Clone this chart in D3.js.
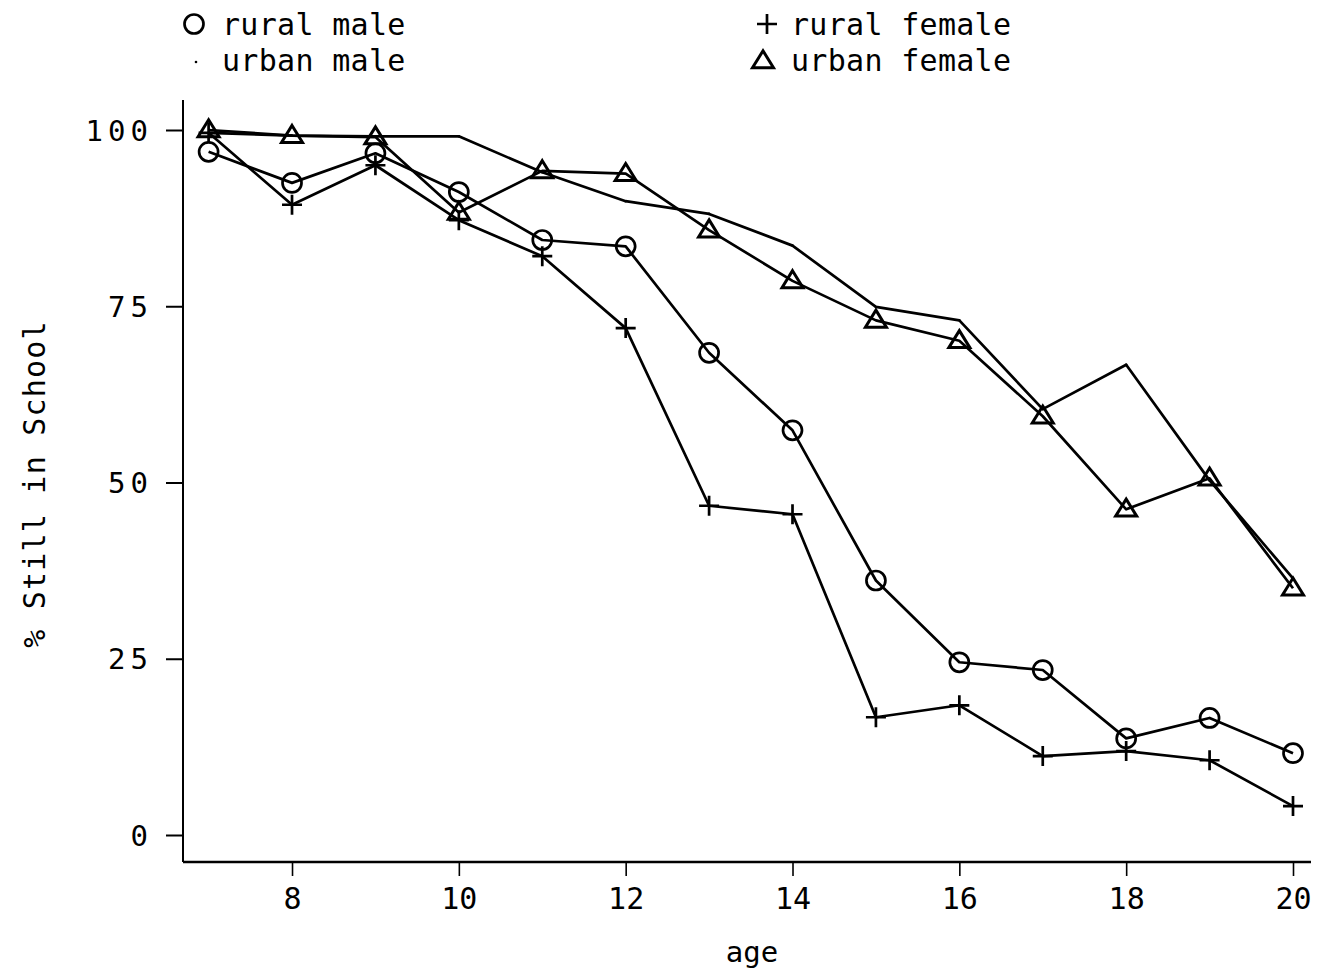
<!DOCTYPE html>
<html>
<head>
<meta charset="utf-8">
<script src="https://cdn.jsdelivr.net/npm/d3@7"></script>
<style>
  html, body { margin: 0; padding: 0; background: #fff; }
  svg { display: block; }
  text { font-family: "DejaVu Sans Mono", "Liberation Mono", monospace; fill: #000; }
</style>
</head>
<body>
<svg id="chart" width="1317" height="972"></svg>
<script>
// ---- data ----
const ages = [7, 8, 9, 10, 11, 12, 13, 14, 15, 16, 17, 18, 19, 20];
const ruralMale   = [96.9, 92.5, 96.7, 91.2, 84.4, 83.5, 68.4, 57.4, 36.1, 24.5, 23.4, 13.7, 16.6, 11.6];
const ruralFemale = [99.6, 89.4, 95.0, 87.2, 82.1, 71.9, 46.7, 45.5, 16.7, 18.4, 11.2, 11.9, 10.6, 4.1];
const urbanMale   = [99.6, 99.2, 99.1, 99.1, 94.0, 89.9, 88.1, 83.6, 74.9, 73.0, 60.4, 66.7, 50.3, 36.4];
const urbanFemale = [100.0, 99.2, 99.0, 88.3, 94.2, 93.8, 85.8, 78.6, 73.0, 70.1, 59.4, 46.2, 50.6, 35.0];
const yTicks = [0, 25, 50, 75, 100];
const xTicks = [8, 10, 12, 14, 16, 18, 20];
const legendLabels = ["rural male", "urban male", "rural female", "urban female"];
const xTitle = "age";
const yTitle = "% Still in School";

const svg = d3.select("#chart");
const x = d3.scaleLinear().domain([7, 20]).range([208.6, 1293]);
const y = d3.scaleLinear().domain([0, 100]).range([835, 130]);

const axisX0 = 183, axisY0 = 862;
const SW = 2.7;

// axis lines
svg.append("line").attr("x1", axisX0).attr("x2", axisX0).attr("y1", 100).attr("y2", axisY0)
  .attr("stroke", "#000").attr("stroke-width", 2);
svg.append("line").attr("x1", axisX0).attr("x2", 1311).attr("y1", axisY0).attr("y2", axisY0)
  .attr("stroke", "#000").attr("stroke-width", 2.4);

// y axis
const yAxis = svg.append("g").attr("transform", `translate(${axisX0},0)`)
  .call(d3.axisLeft(y).tickValues(yTicks).tickSize(17).tickPadding(13).tickFormat(d3.format("d")));
yAxis.select(".domain").remove();
yAxis.selectAll(".tick line").attr("stroke", "#000").attr("stroke-width", 2);
yAxis.selectAll(".tick text").attr("font-size", 29).attr("letter-spacing", 5)
  .attr("font-family", "DejaVu Sans Mono").attr("fill", "#000").attr("dy", "0.35em");

// x axis
const xAxis = svg.append("g").attr("transform", `translate(0,${axisY0})`)
  .call(d3.axisBottom(x).tickValues(xTicks).tickSize(14).tickPadding(12).tickFormat(d3.format("d")));
xAxis.select(".domain").remove();
xAxis.selectAll(".tick line").attr("stroke", "#000").attr("stroke-width", 1.6);
xAxis.selectAll(".tick text").attr("font-size", 30)
  .attr("font-family", "DejaVu Sans Mono").attr("fill", "#000");

// titles
svg.append("text").attr("x", 752).attr("y", 962).attr("text-anchor", "middle")
  .attr("font-size", 29).text(xTitle);
svg.append("text").attr("transform", "translate(45,484) rotate(-90)").attr("text-anchor", "middle")
  .attr("font-size", 30).attr("letter-spacing", 1.2).text(yTitle);

// lines
const line = d3.line().x((d, i) => x(ages[i])).y(d => y(d));
const seriesList = [ruralMale, urbanMale, ruralFemale, urbanFemale];
seriesList.forEach(s => {
  svg.append("path").datum(s).attr("d", line)
    .attr("fill", "none").attr("stroke", "#000").attr("stroke-width", SW)
    .attr("stroke-linejoin", "round");
});

// marker drawers
function circleM(g, cx, cy) {
  g.append("circle").attr("cx", cx).attr("cy", cy).attr("r", 9.5)
    .attr("fill", "none").attr("stroke", "#000").attr("stroke-width", SW);
}
function plusM(g, cx, cy) {
  g.append("path").attr("d", `M${cx-10},${cy}H${cx+10}M${cx},${cy-10}V${cy+10}`)
    .attr("stroke", "#000").attr("stroke-width", SW).attr("fill", "none");
}
function triM(g, cx, cy) {
  const h = 17, w = 10.5;
  g.append("path").attr("d", `M${cx},${cy-h*0.6}L${cx+w},${cy+h*0.4}L${cx-w},${cy+h*0.4}Z`)
    .attr("stroke", "#000").attr("stroke-width", SW + 0.3).attr("fill", "none").attr("stroke-linejoin", "miter");
}
function dotM(g, cx, cy) {
  g.append("circle").attr("cx", cx).attr("cy", cy).attr("r", 1.3).attr("fill", "#000");
}

const mg = svg.append("g");
ruralMale.forEach((v, i) => circleM(mg, x(ages[i]), y(v)));
ruralFemale.forEach((v, i) => plusM(mg, x(ages[i]), y(v)));
urbanMale.forEach((v, i) => dotM(mg, x(ages[i]), y(v)));
urbanFemale.forEach((v, i) => triM(mg, x(ages[i]), y(v)));

// legend
const lg = svg.append("g");
circleM(lg, 194, 24);
dotM(lg, 196, 62);
plusM(lg, 767, 24);
triM(lg, 763, 61);
const legPos = [[222, 35], [222, 71], [791, 35], [791, 71]];
legendLabels.forEach((t, i) => {
  lg.append("text").attr("x", legPos[i][0]).attr("y", legPos[i][1])
    .attr("font-size", 30).attr("letter-spacing", 0.3).text(t);
});
</script>
</body>
</html>
